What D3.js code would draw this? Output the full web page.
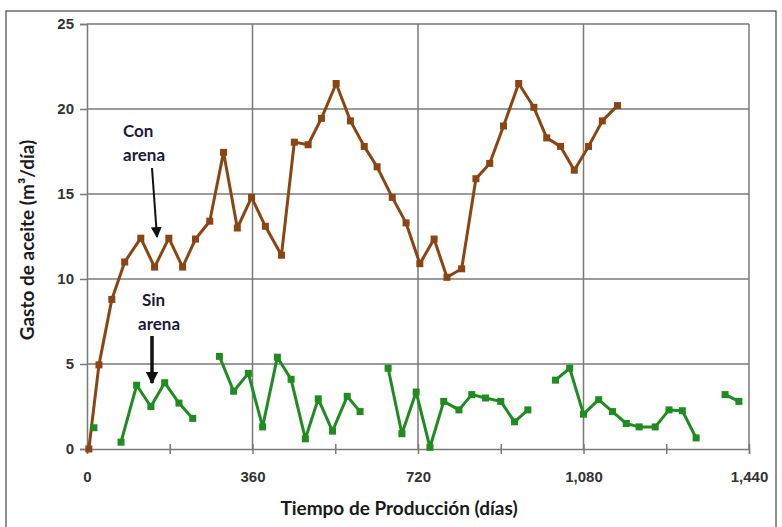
<!DOCTYPE html>
<html>
<head>
<meta charset="utf-8">
<script src="https://cdn.jsdelivr.net/npm/d3@7"></script>
<style>
  body { margin: 0; background: #fff; }
  svg { display: block; }
</style>
</head>
<body>
<div id="chart"></div>
<script>
// Con arena (brown) – days and oil rate
var conDays = [4, 26, 54, 82, 117, 147, 178, 208, 236, 267, 297, 327, 358, 388, 423, 451, 481, 510, 542,
    573, 603, 631, 664, 694, 724, 755, 783, 815, 846, 876, 906, 939, 972, 1000, 1030, 1060, 1091, 1121, 1154];
var conGasto = [0, 4.95, 8.8, 11.0, 12.4, 10.7, 12.4, 10.7, 12.35, 13.4, 17.45, 13.0, 14.8, 13.1, 11.4, 18.05, 17.9, 19.45, 21.5,
    19.3, 17.8, 16.6, 14.8, 13.3, 10.9, 12.35, 10.1, 10.6, 15.9, 16.8, 19.0, 21.5, 20.1, 18.3, 17.8, 16.4, 17.8, 19.3, 20.2];

// Sin arena (green) – null marks a gap in the record
var sinDays = [15, null, 74, 108, 139, 169, 200, 230, null, 288, 319, 351, 382, 414, 444, 475, 503, 534, 566, 594, null,
    655, 685, 716, 746, 776, 809, 837, 867, 900, 930, 959, null,
    1019, 1050, 1080, 1113, 1143, 1173, 1201, 1236, 1266, 1295, 1325, null, 1388, 1418];
var sinGasto = [1.25, null, 0.4, 3.75, 2.5, 3.9, 2.7, 1.8, null, 5.45, 3.4, 4.45, 1.3, 5.4, 4.1, 0.6, 2.95, 1.05, 3.1, 2.2, null,
    4.75, 0.9, 3.35, 0.1, 2.8, 2.3, 3.2, 3.0, 2.8, 1.6, 2.3, null,
    4.05, 4.75, 2.05, 2.9, 2.2, 1.5, 1.3, 1.3, 2.3, 2.25, 0.65, null, 3.2, 2.8];

var xTicks = [0, 360, 720, 1080, 1440];
var xMinorTicks = [180, 540, 900, 1260];
var yTicks = [0, 5, 10, 15, 20, 25];

var width = 782, height = 527;
var plotLeft = 87, plotRight = 749, plotTop = 24, plotBottom = 449;

var svg = d3.select("#chart").append("svg")
    .attr("width", width)
    .attr("height", height);

// outer frame of the chart
svg.append("rect")
    .attr("x", 6).attr("y", 11)
    .attr("width", 770).attr("height", 530)
    .attr("fill", "none")
    .attr("stroke", "#222")
    .attr("stroke-width", 1);

var x = d3.scaleLinear().domain([0, 1440]).range([plotLeft, plotRight]);
var y = d3.scaleLinear().domain([0, 25]).range([plotBottom, plotTop]);

// Gridlines
svg.append("g").selectAll("line")
    .data(yTicks.slice(1))
    .enter().append("line")
    .attr("x1", plotLeft).attr("x2", plotRight)
    .attr("y1", function(d) { return y(d); })
    .attr("y2", function(d) { return y(d); })
    .attr("stroke", "#7a7a7a")
    .attr("stroke-width", 1.5);

svg.append("g").selectAll("line")
    .data(xTicks.slice(1))
    .enter().append("line")
    .attr("x1", function(d) { return x(d); })
    .attr("x2", function(d) { return x(d); })
    .attr("y1", plotTop).attr("y2", plotBottom)
    .attr("stroke", "#7a7a7a")
    .attr("stroke-width", 1.5);

// Y axis
var yAxis = svg.append("g")
    .attr("transform", "translate(" + plotLeft + ",0)")
    .call(d3.axisLeft(y).tickValues(yTicks).tickSize(7).tickPadding(6));
yAxis.select(".domain").attr("stroke", "#7a7a7a").attr("stroke-width", 1.5);
yAxis.selectAll(".tick line").attr("stroke", "#7a7a7a").attr("stroke-width", 1.5);
yAxis.selectAll(".tick text")
    .attr("font-family", "Liberation Sans, Arial, sans-serif")
    .attr("font-weight", "bold")
    .attr("font-size", "15px")
    .attr("fill", "#333");

// X axis
var xAxis = svg.append("g")
    .attr("transform", "translate(0," + plotBottom + ")")
    .call(d3.axisBottom(x).tickValues(xTicks).tickSize(5).tickPadding(17).tickFormat(d3.format(",")));
xAxis.select(".domain").attr("stroke", "#7a7a7a").attr("stroke-width", 1.5);
xAxis.selectAll(".tick line").attr("y1", -5).attr("stroke", "#7a7a7a").attr("stroke-width", 1.5);
xAxis.selectAll(".tick text")
    .attr("font-family", "Liberation Sans, Arial, sans-serif")
    .attr("font-weight", "bold")
    .attr("font-size", "15px")
    .attr("fill", "#333");

// minor ticks at half-year marks
svg.append("g")
    .attr("transform", "translate(0," + plotBottom + ")")
    .call(d3.axisBottom(x).tickValues(xMinorTicks).tickSize(5).tickFormat(""))
    .call(function(g) {
        g.select(".domain").remove();
        g.selectAll(".tick line").attr("y1", -5).attr("stroke", "#7a7a7a").attr("stroke-width", 1.5);
    });

// Axis titles
svg.append("text")
    .attr("x", 399)
    .attr("y", 515)
    .attr("text-anchor", "middle")
    .attr("font-family", "Lato, sans-serif")
    .attr("font-weight", "bold")
    .attr("font-size", "19px")
    .attr("fill", "#1a1a1a")
    .text("Tiempo de Producción (días)");

svg.append("text")
    .attr("transform", "translate(34,240) rotate(-90)")
    .attr("text-anchor", "middle")
    .attr("font-family", "Lato, sans-serif")
    .attr("font-weight", "bold")
    .attr("font-size", "19px")
    .attr("fill", "#1a1a1a")
    .text("Gasto de aceite (m³/día)");

// Series
var conData = conDays.map(function(d, i) { return { day: d, gasto: conGasto[i] }; });
var sinData = sinDays.map(function(d, i) { return { day: d, gasto: sinGasto[i] }; });

var line = d3.line()
    .defined(function(d) { return d.day !== null; })
    .x(function(d) { return x(d.day); })
    .y(function(d) { return y(d.gasto); });

function drawSeries(data, color) {
    svg.append("path")
        .datum(data)
        .attr("fill", "none")
        .attr("stroke", color)
        .attr("stroke-width", 3)
        .attr("stroke-linejoin", "round")
        .attr("d", line);

    svg.append("g").selectAll("rect")
        .data(data.filter(function(d) { return d.day !== null; }))
        .enter().append("rect")
        .attr("x", function(d) { return x(d.day) - 3.5; })
        .attr("y", function(d) { return y(d.gasto) - 3.5; })
        .attr("width", 7)
        .attr("height", 7)
        .attr("fill", color);
}

drawSeries(conData, "#8b4513");
drawSeries(sinData, "#1e8c1e");

// Annotations
var note = svg.append("g")
    .attr("font-family", "Lato, sans-serif")
    .attr("font-weight", "bold")
    .attr("font-size", "17px")
    .attr("fill", "#1c1c3a");
note.append("text").attr("x", 123).attr("y", 137).text("Con");
note.append("text").attr("x", 123).attr("y", 161).text("arena");
note.append("text").attr("x", 142).attr("y", 306).text("Sin");
note.append("text").attr("x", 138).attr("y", 330).text("arena");

var defs = svg.append("defs");
function arrowHead(id, size) {
    defs.append("marker")
        .attr("id", id)
        .attr("viewBox", "0 0 10 10")
        .attr("refX", 9).attr("refY", 5)
        .attr("markerWidth", size).attr("markerHeight", size)
        .attr("markerUnits", "strokeWidth")
        .attr("orient", "auto")
        .append("path")
        .attr("d", "M0,0 L10,5 L0,10 Z")
        .attr("fill", "#111");
}
arrowHead("headThin", 5.5);
arrowHead("headThick", 3.6);

svg.append("line")
    .attr("x1", 152).attr("y1", 168)
    .attr("x2", 157).attr("y2", 237)
    .attr("stroke", "#111").attr("stroke-width", 2)
    .attr("marker-end", "url(#headThin)");

svg.append("line")
    .attr("x1", 152).attr("y1", 336)
    .attr("x2", 152).attr("y2", 383)
    .attr("stroke", "#111").attr("stroke-width", 3.5)
    .attr("marker-end", "url(#headThick)");
</script>
</body>
</html>
